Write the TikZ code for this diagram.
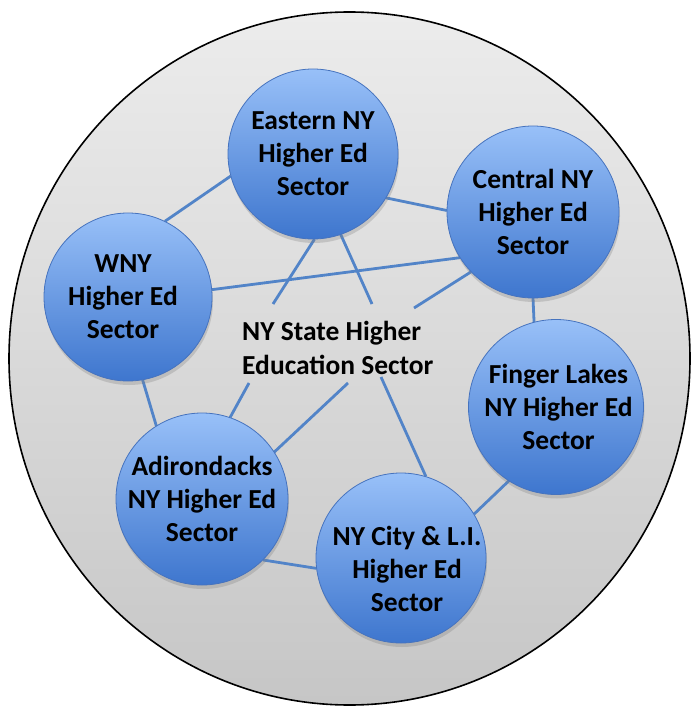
\documentclass[tikz,border=0pt]{standalone}
\usepackage{fontspec}
\setmainfont{Carlito}
\usetikzlibrary{shadows}
\definecolor{lineblue}{RGB}{82,132,200}
\definecolor{circtop}{RGB}{152,192,248}
\definecolor{circbot}{RGB}{62,118,206}
\definecolor{circborder}{RGB}{70,115,190}
\definecolor{bigtop}{RGB}{236,236,236}
\definecolor{bigbot}{RGB}{198,198,198}
\tikzset{
  sector/.style={circle, minimum size=170pt, inner sep=0pt, top color=circtop, bottom color=circbot,
    draw=circborder, line width=0.8pt, align=center, text=black,
    font=\fontsize{27.5}{33}\selectfont\bfseries,
    drop shadow={opacity=0.3, shadow xshift=1pt, shadow yshift=-4pt}},
  link/.style={draw=lineblue, line width=2.8pt},
  biglabel/.style={align=left, font=\fontsize{27.5}{34.5}\selectfont\bfseries, inner sep=0pt, anchor=west}
}
\begin{document}
\begin{tikzpicture}[x=1pt,y=-1pt]
\useasboundingbox (0,0) rectangle (691,708);
\draw[top color=bigtop, bottom color=bigbot, draw=black, line width=1.6pt] (349.5,358.5) ellipse [x radius=340.5, y radius=346.5];
% label and free ends
\node[biglabel] (ny) at (242,348) {NY State Higher\\Education Sector};
\coordinate (c1) at (273,304);
\coordinate (c2) at (372,304);
\coordinate (c3) at (414,308);
\coordinate (c4) at (249,383);
\coordinate (c5) at (348,383);
\coordinate (c6) at (381,377);
% sector positions
\coordinate (pe) at (313,154);
\coordinate (pc) at (533,212);
\coordinate (pw) at (128,297);
\coordinate (pf) at (556,407);
\coordinate (pa) at (202,499);
\coordinate (pn) at (401,558);
% invisible anchors for connectors
\node[circle, minimum size=170pt, inner sep=0pt] (east) at (pe) {};
\node[circle, minimum size=172pt, inner sep=0pt] (central) at (pc) {};
\node[circle, minimum size=168pt, inner sep=0pt] (wny) at (pw) {};
\node[circle, minimum size=168pt, inner sep=0pt] (finger) at (pf) {};
\node[circle, minimum size=172pt, inner sep=0pt] (adk) at (pa) {};
\node[circle, minimum size=170pt, inner sep=0pt] (nyc) at (pn) {};
% connectors
\draw[link] (east.195) -- (wny.64);
\draw[link] (east.329) -- (central.179);
\draw[link] (wny.5) -- (central.212);
\draw[link] (east.271) -- (c1);
\draw[link] (east.289) -- (c2);
\draw[link] (central.224) -- (c3);
\draw[link] (central.270) -- (finger.105);
\draw[link] (wny.280) -- (adk.122);
\draw[link] (adk.71) -- (c4);
\draw[link] (adk.33) -- (c5);
\draw[link] (nyc.73) -- (c6);
\draw[link] (adk.315) -- (nyc.187);
\draw[link] (finger.238) -- (nyc.31);
% sector circles
\node[sector] at (pe) {Eastern NY\\Higher Ed\\Sector};
\node[sector, minimum size=172pt] at (pc) {Central NY\\Higher Ed\\Sector};
\node[sector, minimum size=168pt] at (pw) {\hspace*{-10pt}WNY\\\hspace*{-10pt}Higher Ed\\\hspace*{-10pt}Sector};
\node[sector, minimum size=168pt] at (pf) {\hspace*{5pt}Finger Lakes\\\hspace*{5pt}NY Higher Ed\\\hspace*{5pt}Sector};
\node[sector, minimum size=172pt] at (pa) {Adirondacks\\NY Higher Ed\\Sector};
\node[sector] at (pn) {\raisebox{-20pt}[0pt][0pt]{\makebox[0pt]{\hspace*{12pt}\begin{tabular}{@{}c@{}}NY City \& L.I.\\Higher Ed\\Sector\end{tabular}}}};
\end{tikzpicture}
\end{document}
